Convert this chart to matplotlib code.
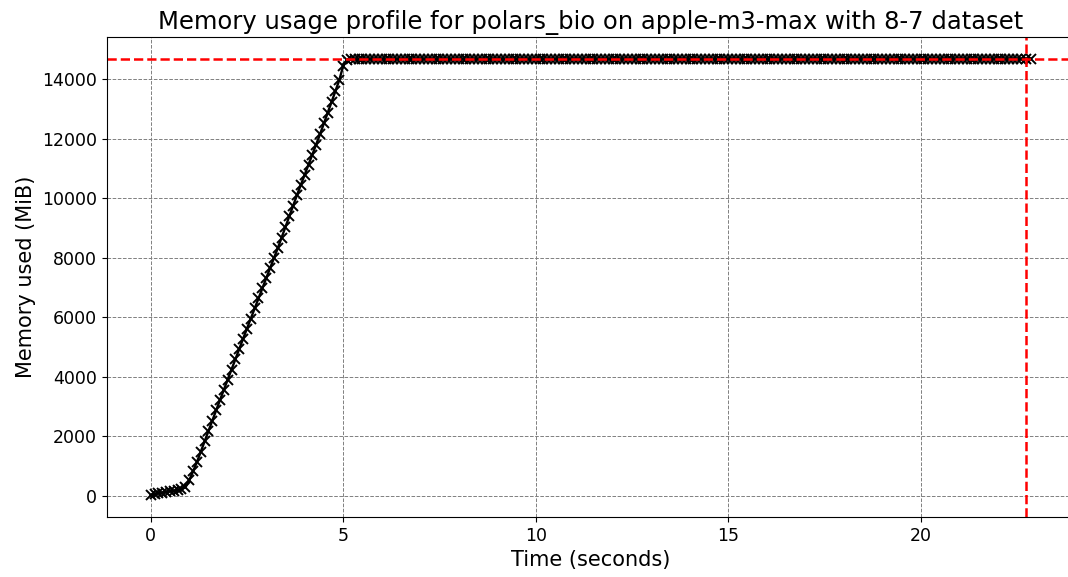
import matplotlib
matplotlib.use("Agg")
from matplotlib import pyplot as plt

# sample timestamps (s) and memory readings (MiB) from the profiler run
time_s = [
    0.0, 0.1, 0.2, 0.3, 0.4, 0.5, 0.6, 0.7, 0.8, 0.9,
    1.0, 1.1, 1.2, 1.3, 1.4, 1.5, 1.6, 1.7, 1.8, 1.9,
    2.0, 2.1, 2.2, 2.3, 2.4, 2.5, 2.6, 2.7, 2.8, 2.9,
    3.0, 3.1, 3.2, 3.3, 3.4, 3.5, 3.6, 3.7, 3.8, 3.9,
    4.0, 4.1, 4.2, 4.3, 4.4, 4.5, 4.6, 4.7, 4.8, 4.9,
    5.0, 5.1, 5.2, 5.3, 5.4, 5.5, 5.6, 5.7, 5.8, 5.9,
    6.0, 6.1, 6.2, 6.3, 6.4, 6.5, 6.6, 6.7, 6.8, 6.9,
    7.0, 7.1, 7.2, 7.3, 7.4, 7.5, 7.6, 7.7, 7.8, 7.9,
    8.0, 8.1, 8.2, 8.3, 8.4, 8.5, 8.6, 8.7, 8.8, 8.9,
    9.0, 9.1, 9.2, 9.3, 9.4, 9.5, 9.6, 9.7, 9.8, 9.9,
    10.0, 10.1, 10.2, 10.3, 10.4, 10.5, 10.6, 10.7, 10.8, 10.9,
    11.0, 11.1, 11.2, 11.3, 11.4, 11.5, 11.6, 11.7, 11.8, 11.9,
    12.0, 12.1, 12.2, 12.3, 12.4, 12.5, 12.6, 12.7, 12.8, 12.9,
    13.0, 13.1, 13.2, 13.3, 13.4, 13.5, 13.6, 13.7, 13.8, 13.9,
    14.0, 14.1, 14.2, 14.3, 14.4, 14.5, 14.6, 14.7, 14.8, 14.9,
    15.0, 15.1, 15.2, 15.3, 15.4, 15.5, 15.6, 15.7, 15.8, 15.9,
    16.0, 16.1, 16.2, 16.3, 16.4, 16.5, 16.6, 16.7, 16.8, 16.9,
    17.0, 17.1, 17.2, 17.3, 17.4, 17.5, 17.6, 17.7, 17.8, 17.9,
    18.0, 18.1, 18.2, 18.3, 18.4, 18.5, 18.6, 18.7, 18.8, 18.9,
    19.0, 19.1, 19.2, 19.3, 19.4, 19.5, 19.6, 19.7, 19.8, 19.9,
    20.0, 20.1, 20.2, 20.3, 20.4, 20.5, 20.6, 20.7, 20.8, 20.9,
    21.0, 21.1, 21.2, 21.3, 21.4, 21.5, 21.6, 21.7, 21.8, 21.9,
    22.0, 22.1, 22.2, 22.3, 22.4, 22.5, 22.61, 22.73, 22.86,
]
mem_mib = [
    20, 50, 80, 110, 130, 150, 170, 200, 230, 280,
    520, 820, 1130, 1480, 1840, 2190, 2530, 2880, 3220, 3560,
    3900, 4240, 4590, 4940, 5280, 5620, 5960, 6300, 6640, 6980,
    7310, 7650, 7980, 8320, 8680, 9030, 9390, 9750, 10110, 10450,
    10790, 11130, 11470, 11810, 12160, 12520, 12880, 13240, 13610, 13980,
    14450, 14665, 14671, 14674, 14675, 14676, 14676, 14677, 14677, 14678,
    14678, 14678, 14679, 14679, 14679, 14680, 14680, 14680, 14680, 14681,
    14681, 14681, 14681, 14681, 14682, 14682, 14682, 14682, 14682, 14682,
    14682, 14683, 14683, 14683, 14683, 14683, 14683, 14683, 14684, 14684,
    14684, 14684, 14684, 14684, 14684, 14685, 14685, 14685, 14685, 14685,
    14685, 14685, 14685, 14685, 14685, 14685, 14686, 14686, 14686, 14686,
    14686, 14686, 14686, 14686, 14686, 14686, 14686, 14687, 14687, 14687,
    14687, 14687, 14687, 14687, 14687, 14687, 14687, 14687, 14687, 14687,
    14687, 14687, 14688, 14688, 14688, 14688, 14688, 14688, 14688, 14688,
    14688, 14688, 14688, 14688, 14688, 14688, 14688, 14688, 14688, 14688,
    14688, 14688, 14688, 14688, 14688, 14688, 14688, 14688, 14688, 14688,
    14688, 14688, 14688, 14688, 14688, 14688, 14688, 14689, 14689, 14689,
    14689, 14689, 14689, 14689, 14689, 14689, 14689, 14689, 14689, 14689,
    14689, 14689, 14689, 14689, 14689, 14689, 14689, 14689, 14689, 14689,
    14689, 14689, 14689, 14689, 14689, 14689, 14689, 14689, 14689, 14689,
    14689, 14689, 14689, 14689, 14689, 14689, 14689, 14689, 14689, 14689,
    14689, 14689, 14689, 14689, 14689, 14689, 14689, 14689, 14689, 14689,
    14689, 14689, 14689, 14689, 14689, 14689, 14689, 14691, 14688,
]

fig = plt.figure(figsize=(10.68, 5.77), dpi=100)
ax = fig.add_axes([106.7 / 1068, 60 / 577, 968 / 1068, 480 / 577])

ax.plot(time_s, mem_mib, color='black', linestyle='-', linewidth=1.7,
        marker='x', markersize=7, markeredgewidth=1.4)

# mark the peak usage
peak = max(mem_mib)
peak_t = time_s[mem_mib.index(peak)]
ax.axhline(peak, color='red', linestyle='--', linewidth=1.8)
ax.axvline(peak_t, color='red', linestyle='--', linewidth=1.8)

ax.grid(True, color='gray', linestyle='--', linewidth=0.7)
ax.set_xlabel('Time (seconds)', fontsize=15)
ax.set_ylabel('Memory used (MiB)', fontsize=15)
ax.set_title('Memory usage profile for polars_bio on apple-m3-max with 8-7 dataset', fontsize=17.5)
ax.tick_params(labelsize=12.5)

plt.savefig('out.png', dpi=100)
